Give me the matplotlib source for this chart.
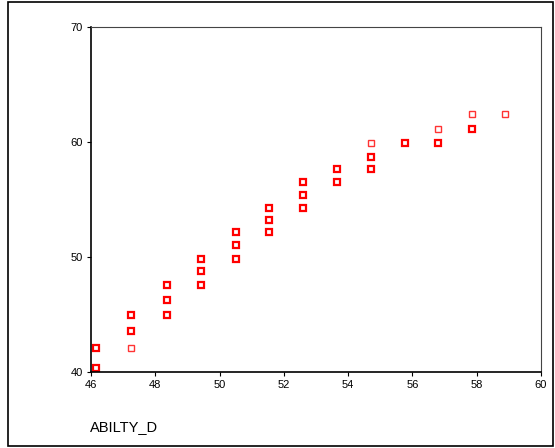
import matplotlib.pyplot as plt
from matplotlib.patches import Rectangle

plt.rcParams['font.family'] = ['Liberation Sans', 'DejaVu Sans']

# data
ability_d = [46.16, 46.16,
             47.24, 47.24, 47.24,
             48.36, 48.36, 48.36,
             49.42, 49.42, 49.42,
             50.51, 50.51, 50.51,
             51.54, 51.54, 51.54,
             52.60, 52.60, 52.60,
             53.65, 53.65,
             54.71, 54.71, 54.71,
             55.77,
             56.80, 56.80,
             57.85, 57.85,
             58.88]
score = [42.09, 40.35,
         44.96, 43.57, 42.09,
         47.57, 46.26, 44.96,
         49.83, 48.78, 47.57,
         52.17, 51.04, 49.83,
         54.26, 53.22, 52.17,
         56.52, 55.39, 54.26,
         57.65, 56.52,
         59.91, 58.70, 57.65,
         59.91,
         61.13, 59.91,
         62.43, 61.13,
         62.43]
# points drawn thinner (single cases)
single = [False, False,
          False, False, True,
          False, False, False,
          False, False, False,
          False, False, False,
          False, False, False,
          False, False, False,
          False, False,
          True, False, False,
          False,
          True, False,
          True, False,
          True]

fig = plt.figure(figsize=(5.55, 4.48), dpi=100)
ax = fig.add_axes([91/555, 1 - 372/448, 450/555, 345/448])

for x, y, s in zip(ability_d, score, single):
    ax.plot(x, y, marker='s', ms=4.2, mfc='white', mec='red',
            mew=1.0 if s else 1.6, ls='none', alpha=0.8 if s else 1.0)

ax.set_xlim(46, 60)
ax.set_ylim(40, 70)
ax.set_xticks(range(46, 61, 2))
ax.set_yticks([40, 50, 60, 70])
ax.tick_params(labelsize=8, length=3, width=0.8, pad=3)
for sp in ['left', 'bottom']:
    ax.spines[sp].set_linewidth(1.2)
for sp in ['top', 'right']:
    ax.spines[sp].set_linewidth(0.8)
    ax.spines[sp].set_color('#444444')

fig.text(90/555, 1 - 427/448, 'ABILTY_D', fontsize=10.5, va='center', ha='left')

fig.patches.append(Rectangle((8/555, 2/448), 545/555, 444/448, transform=fig.transFigure,
                             fill=False, lw=1.2, ec='black'))

fig.savefig('out.png', dpi=100)
